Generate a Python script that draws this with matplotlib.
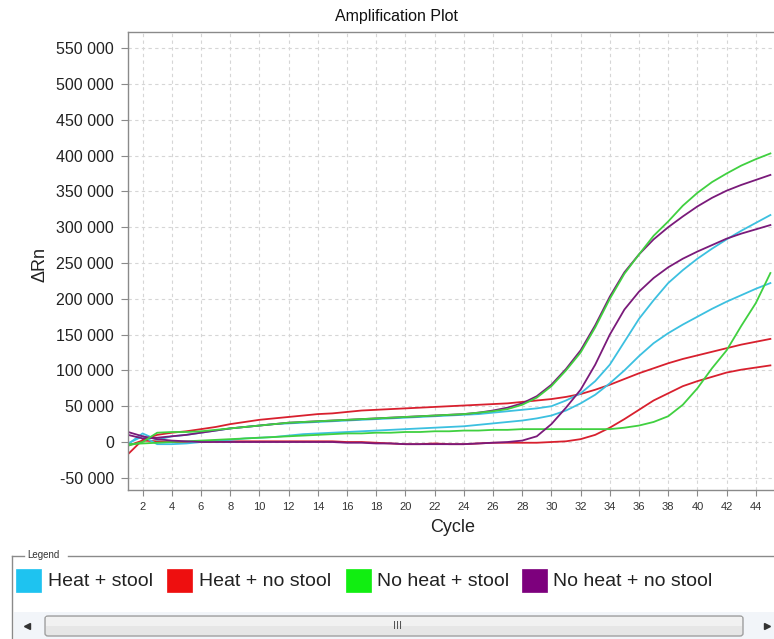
import matplotlib
matplotlib.use("Agg")
import matplotlib.pyplot as plt
from matplotlib.ticker import FuncFormatter, MultipleLocator
from matplotlib.patches import Rectangle, FancyBboxPatch
from matplotlib.lines import Line2D

plt.rcParams['font.family'] = ['Liberation Sans', 'DejaVu Sans']

cycles = list(range(1, 46))

heat_stool_a = [-3000, 12000, 3000, 8000, 10000, 13000, 16000, 19000, 21000, 23000, 25000, 26000, 27000, 28000, 29000,
                30000, 31000, 32000, 33000, 34000, 35000, 36000, 37000, 38000, 39000, 41000, 43000, 45000, 47000, 50000,
                58000, 68000, 85000, 108000, 140000, 172000, 198000, 222000, 240000, 256000, 270000, 283000, 295000, 306000, 317000]
heat_stool_b = [-2000, 8000, -3000, -3000, -2000, 0, 2000, 3000, 5000, 6000, 7000, 9000, 11000, 12000, 13000,
                14000, 15000, 16000, 17000, 18000, 19000, 20000, 21000, 22000, 24000, 26000, 28000, 30000, 33000, 37000,
                44000, 54000, 66000, 82000, 100000, 120000, 138000, 152000, 164000, 175000, 186000, 196000, 205000, 214000, 222000]
heat_nostool_a = [-17000, 3000, 10000, 13000, 15000, 18000, 21000, 25000, 28000, 31000, 33000, 35000, 37000, 39000, 40000,
                  42000, 44000, 45000, 46000, 47000, 48000, 49000, 50000, 51000, 52000, 53000, 54000, 56000, 58000, 60000,
                  63000, 67000, 73000, 80000, 88000, 96000, 103000, 110000, 116000, 121000, 126000, 131000, 136000, 140000, 144000]
heat_nostool_b = [-5000, 2000, 1000, 0, 0, 0, 1000, 1000, 1000, 1000, 1000, 1000, 1000, 1000, 1000,
                  0, 0, -1000, -2000, -3000, -3000, -2000, -3000, -3000, -2000, -1000, -1000, -1000, -1000, 0,
                  1000, 4000, 10000, 20000, 32000, 45000, 58000, 68000, 78000, 85000, 91000, 97000, 101000, 104000, 107000]
noheat_stool_a = [-5000, 0, 13000, 14000, 14000, 15000, 17000, 19000, 21000, 23000, 25000, 27000, 28000, 29000, 30000,
                  31000, 32000, 33000, 34000, 35000, 36000, 37000, 38000, 39000, 41000, 43000, 46000, 52000, 62000, 78000,
                  100000, 125000, 160000, 200000, 235000, 262000, 288000, 308000, 330000, 348000, 363000, 375000, 386000, 395000, 403000]
noheat_stool_b = [-3000, -2000, -1000, 0, 1000, 2000, 3000, 4000, 5000, 6000, 7000, 8000, 9000, 10000, 11000,
                  12000, 12000, 13000, 13000, 14000, 14000, 15000, 15000, 16000, 16000, 17000, 17000, 18000, 18000, 18000,
                  18000, 18000, 18000, 18000, 20000, 23000, 28000, 36000, 52000, 75000, 103000, 128000, 162000, 194000, 236000]
noheat_nostool_a = [10000, 5000, 6000, 8000, 10000, 13000, 16000, 19000, 21000, 23000, 25000, 27000, 28000, 29000, 30000,
                    31000, 32000, 33000, 34000, 35000, 36000, 37000, 38000, 39000, 41000, 44000, 48000, 54000, 64000, 80000,
                    102000, 128000, 163000, 203000, 237000, 262000, 283000, 300000, 315000, 329000, 341000, 351000, 359000, 366000, 373000]
noheat_nostool_b = [14000, 8000, 4000, 2000, 1000, 0, 0, 0, 0, 0, 0, 0, 0, 0, 0,
                    -1000, -1000, -2000, -2000, -3000, -3000, -3000, -3000, -3000, -2000, -1000, 0, 2000, 8000, 25000,
                    48000, 73000, 108000, 150000, 185000, 210000, 229000, 244000, 256000, 266000, 275000, 284000, 291000, 297000, 303000]

legend_labels = ["Heat + stool", "Heat + no stool", "No heat + stool", "No heat + no stool"]
legend_colors = ["#1ec3f0", "#ee0f0f", "#11ee11", "#7d007d"]
line_colors = ["#3cc0e0", "#d8202e", "#40d040", "#7a1a7a"]

series = [
    (heat_nostool_a, 1), (heat_nostool_b, 1),
    (heat_stool_a, 0), (heat_stool_b, 0),
    (noheat_stool_b, 2), (noheat_nostool_b, 3),
    (noheat_nostool_a, 3), (noheat_stool_a, 2),
]

W, H = 774, 639
fig = plt.figure(figsize=(W / 100, H / 100), dpi=100)
fig.patch.set_facecolor('white')

ax_left, ax_right, ax_top, ax_bot = 128, 780, 32, 490
ax = fig.add_axes([ax_left / W, 1 - ax_bot / H, (ax_right - ax_left) / W, (ax_bot - ax_top) / H])

for vals, gi in series:
    ax.plot(cycles, vals, color=line_colors[gi], lw=1.3, solid_joinstyle='round')

px_per_cycle = 14.6
ax.set_xlim(1, 1 + (ax_right - ax_left) / px_per_cycle)
ax.set_ylim(-67000, 572600)
ax.set_xticks(range(2, 46, 2))
ax.set_yticks(range(-50000, 550001, 50000))
ax.yaxis.set_major_formatter(FuncFormatter(lambda v, p: f"{int(v):,}".replace(",", " ")))

ax.grid(True, color='#d6d6d6', linestyle=(0, (3, 3)), lw=0.8)
ax.set_axisbelow(True)
for s in ['left', 'top', 'bottom', 'right']:
    ax.spines[s].set_color('#8a8a8a')
    ax.spines[s].set_linewidth(1.0)

ax.tick_params(axis='y', direction='out', length=5, color='#8a8a8a', labelsize=11.5, pad=5, labelcolor='#222222')
ax.tick_params(axis='x', direction='out', length=4, color='#8a8a8a', labelsize=8, pad=5, labelcolor='#333333')

fig.text(397 / W, 1 - 16 / H, "Amplification Plot", ha='center', va='center', fontsize=11.5, color='#111111')
fig.text(453 / W, 1 - 527 / H, "Cycle", ha='center', va='center', fontsize=13, color='#222222')
fig.text(40 / W, 1 - 265 / H, "ΔRn", ha='center', va='center', fontsize=13, rotation=90, color='#222222')


def fx(x):
    return x / W


def fy(y):
    return 1 - y / H


frame_col = '#8a8a8a'
fig.add_artist(Line2D([fx(12), fx(12)], [fy(556), fy(639)], color=frame_col, lw=1.0))
fig.add_artist(Line2D([fx(12), fx(24)], [fy(556), fy(556)], color=frame_col, lw=1.0))
fig.add_artist(Line2D([fx(68), fx(774)], [fy(556), fy(556)], color=frame_col, lw=1.0))
fig.text(fx(27), fy(555), "Legend", ha='left', va='center', fontsize=7, color='#333333')

sq_x = [16, 167, 346, 522]
tx_x = [48, 199, 377, 553]
for i in range(4):
    fig.add_artist(Rectangle((fx(sq_x[i]), fy(592)), 25 / W, 23 / H, facecolor=legend_colors[i],
                             edgecolor=legend_colors[i], lw=0.5))
    fig.text(fx(tx_x[i]), fy(582), legend_labels[i], ha='left', va='center', fontsize=14, color='#222222')

# Scrollbar
fig.add_artist(Rectangle((fx(14), fy(639)), (774 - 14) / W, 27 / H, facecolor='#f2f5f9', edgecolor='none'))
fig.add_artist(FancyBboxPatch((fx(45), fy(636)), (743 - 45) / W, 20 / H,
                              boxstyle='round,pad=0,rounding_size=0.004',
                              facecolor='#e6e6e6', edgecolor='#a0a0a0', lw=1.0))
fig.add_artist(Rectangle((fx(46), fy(626)), (742 - 46) / W, 9 / H, facecolor='#f1f1f1', edgecolor='none'))
fig.text(fx(398), fy(626), "III", ha='center', va='center', fontsize=8, color='#555555')
fig.add_artist(Line2D([fx(27)], [fy(626)], marker='<', markersize=4, color='#333333', linestyle='none'))
fig.add_artist(Line2D([fx(767)], [fy(626)], marker='>', markersize=4, color='#333333', linestyle='none'))

fig.savefig("out.png", dpi=100)
